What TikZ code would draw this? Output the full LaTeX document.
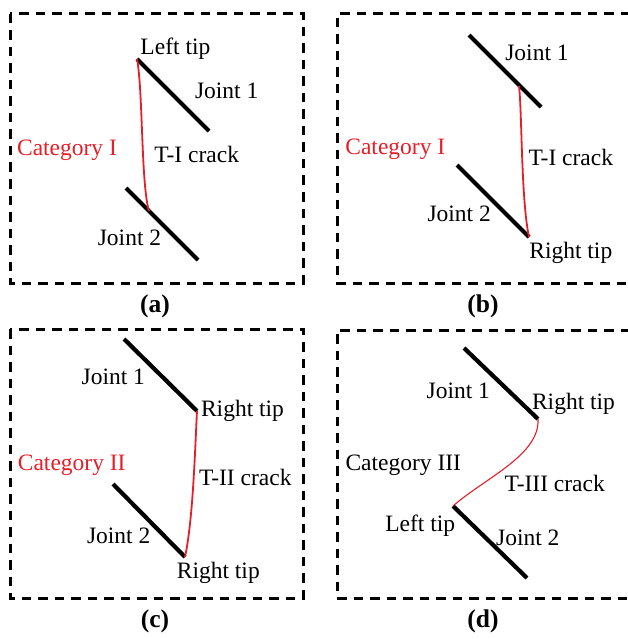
\documentclass[tikz,border=0pt]{standalone}
\usepackage{fontspec}
\setmainfont{Liberation Serif}
\definecolor{crackred}{RGB}{230,30,40}
\begin{document}
\begin{tikzpicture}[x=1pt,y=-1pt,
  frame/.style={line width=3pt,dash pattern=on 9.5pt off 7pt},
  joint/.style={line width=4.2pt},
  crack/.style={crackred,line width=1.8pt},
  thincrack/.style={crackred,line width=1.1pt},
  lbl/.style={anchor=base,inner sep=0pt,font=\fontsize{23.5}{28}\selectfont},
  catlbl/.style={lbl,text=crackred},
  caplbl/.style={lbl,font=\fontsize{25.5}{30}\selectfont\bfseries}]
\useasboundingbox (0,0) rectangle (627,639);

% ---------- frames ----------
\draw[frame] (10,14) rectangle (303,283);
\draw[frame] (630,14) -- (337,14) -- (337,283) -- (630,283);
\draw[frame] (10,329) rectangle (303,598);
\draw[frame] (630,330) -- (337,330) -- (337,598) -- (630,598);

% ---------- (a) ----------
\coordinate (a1s) at (137,59);  \coordinate (a1e) at (209,131);
\coordinate (a2s) at (126,188); \coordinate (a2e) at (198,260);
\coordinate (acr) at (149,211);
\draw[joint] (a1s) -- (a1e);
\draw[joint] (a2s) -- (a2e);
\draw[crack] (a1s) .. controls (143,90) and (141,185) .. (acr);
\node[lbl]    (aleft)  at (175.4,54.5) {Left tip};
\node[lbl]    (aj1)    at (226.7,98.5) {Joint 1};
\node[catlbl] (acat)   at (67,155.5)   {Category I};
\node[lbl]    (acrack) at (196.7,163)  {T-I crack};
\node[lbl]    (aj2)    at (129.5,245.5){Joint 2};
\node[caplbl] (acap)   at (155,312)    {(a)};

% ---------- (b) ----------
\coordinate (b1s) at (469,35);  \coordinate (b1e) at (541,107);
\coordinate (b2s) at (457,165); \coordinate (b2e) at (529,237);
\coordinate (bcr) at (519,86);
\draw[joint] (b1s) -- (b1e);
\draw[joint] (b2s) -- (b2e);
\draw[crack] (bcr) .. controls (522,110) and (521,200) .. (b2e);
\node[lbl]    (bj1)    at (537,61)      {Joint 1};
\node[catlbl] (bcat)   at (395.3,155)   {Category I};
\node[lbl]    (bcrack) at (570.8,165.5) {T-I crack};
\node[lbl]    (bj2)    at (459.2,221.5) {Joint 2};
\node[lbl]    (bright) at (570.8,258.3) {Right tip};
\node[caplbl] (bcap)   at (483,312)     {(b)};

% ---------- (c) ----------
\coordinate (c1s) at (124,339); \coordinate (c1e) at (197,411);
\coordinate (c2s) at (113,484); \coordinate (c2e) at (185,557);
\draw[joint] (c1s) -- (c1e);
\draw[joint] (c2s) -- (c2e);
\draw[crack] (c1e) .. controls (195,450) and (193,520) .. (c2e);
\node[lbl]    (cj1)    at (113.3,384)   {Joint 1};
\node[lbl]    (cright1) at (242.5,416)  {Right tip};
\node[catlbl] (ccat)   at (71.7,470)    {Category II};
\node[lbl]    (ccrack) at (245.3,485.7) {T-II crack};
\node[lbl]    (cj2)    at (118.7,543.3) {Joint 2};
\node[lbl]    (cright2) at (218.3,578.3){Right tip};
\node[caplbl] (ccap)   at (155,627)     {(c)};

% ---------- (d) ----------
\coordinate (d1s) at (464,348); \coordinate (d1e) at (538,419);
\coordinate (d2s) at (453,506); \coordinate (d2e) at (527,578);
\draw[joint] (d1s) -- (d1e);
\draw[joint] (d2s) -- (d2e);
\draw[thincrack] (d1e) .. controls (540,455) and (485,478) .. (d2s);
\node[lbl] (dj1)    at (458.3,398.3) {Joint 1};
\node[lbl] (dright) at (573.5,409.3) {Right tip};
\node[lbl] (dcat)   at (403.3,470)   {Category III};
\node[lbl] (dcrack) at (554.7,491.7) {T-III crack};
\node[lbl] (dleft)  at (420.2,531.7) {Left tip};
\node[lbl] (dj2)    at (527.8,545)   {Joint 2};
\node[caplbl] (dcap) at (483,627)    {(d)};
\end{tikzpicture}
\end{document}
